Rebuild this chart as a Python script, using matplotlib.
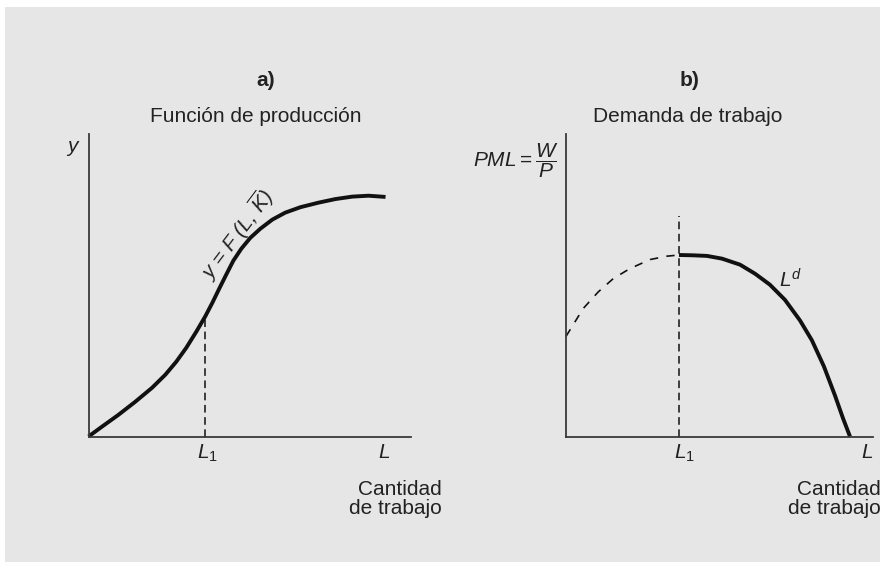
import matplotlib
matplotlib.use("Agg")
import matplotlib.pyplot as plt
from matplotlib.patches import Rectangle

plt.rcParams['font.family'] = ['Liberation Sans', 'DejaVu Sans']
plt.rcParams['mathtext.fontset'] = 'custom'
plt.rcParams['mathtext.rm'] = 'Liberation Sans'
plt.rcParams['mathtext.it'] = 'Liberation Sans:italic'
plt.rcParams['mathtext.bf'] = 'Liberation Sans:bold'

# Panel a: production function (units 0..10 on both axes)
prod_L = [0, 0.45, 0.92, 1.44, 1.97, 2.38, 2.72, 3.03, 3.34, 3.62, 3.84, 4.05, 4.27, 4.49,
          4.74, 5.02, 5.33, 5.70, 6.10, 6.57, 7.13, 7.66, 8.18, 8.68, 9.21]
prod_y = [0, 0.35, 0.71, 1.14, 1.61, 2.04, 2.47, 2.93, 3.46, 3.97, 4.42, 4.88, 5.35, 5.81,
          6.21, 6.57, 6.87, 7.17, 7.40, 7.58, 7.73, 7.85, 7.93, 7.96, 7.92]
L1_a = 3.62
y_at_L1 = 3.97

# Panel b: labour demand (marginal product of labour)
pml_dashed_L = [0, 0.56, 1.05, 1.54, 2.08, 2.74, 3.28, 3.68]
pml_dashed_y = [3.31, 4.23, 4.78, 5.22, 5.55, 5.85, 5.96, 6.0]
pml_solid_L = [3.68, 4.14, 4.59, 5.08, 5.67, 6.16, 6.64, 7.13, 7.62, 8.01, 8.40, 8.76, 9.02, 9.25]
pml_solid_y = [6.0, 5.99, 5.97, 5.88, 5.68, 5.38, 5.02, 4.52, 3.84, 3.18, 2.32, 1.36, 0.61, 0]
L1_b = 3.68
dash_top_b = 7.3

W, H = 880, 562
ink = '#222222'
axis_col = '#3a3a3a'
fs = 15


def px(x, y):
    return x / W, 1 - y / H


fig = plt.figure(figsize=(W / 100, H / 100), dpi=100)
fig.patch.set_facecolor('white')
fig.add_artist(Rectangle((5 / W, 0), 1 - 5 / W, 1 - 7 / H, transform=fig.transFigure,
                         facecolor='#e6e6e6', edgecolor='none', zorder=0))


def make_axes(left, right):
    ax = fig.add_axes([left / W, (H - 436.5) / H, (right - left) / W, (436.5 - 134) / H])
    ax.set_xlim(0, 10)
    ax.set_ylim(0, 10)
    ax.patch.set_alpha(0)
    for s in ['top', 'right']:
        ax.spines[s].set_visible(False)
    for s in ['left', 'bottom']:
        ax.spines[s].set_color(axis_col)
        ax.spines[s].set_linewidth(1.3)
    ax.set_xticks([])
    ax.set_yticks([])
    return ax


ax1 = make_axes(88.5, 411)
ax1.plot(prod_L, prod_y, color='#111111', lw=2.8, solid_capstyle='butt',
         solid_joinstyle='round', clip_on=False)
ax1.plot([L1_a, L1_a], [0, y_at_L1], color='#111111', lw=1.1, dashes=(5, 3))

ax2 = make_axes(566, 873)
ax2.plot(pml_dashed_L, pml_dashed_y, color='#111111', lw=1.2, dashes=(5, 5), clip_on=False)
ax2.plot(pml_solid_L, pml_solid_y, color='#111111', lw=2.8, solid_capstyle='butt',
         solid_joinstyle='round', clip_on=False)
ax2.plot([L1_b, L1_b], [0, dash_top_b], color='#111111', lw=1.1, dashes=(5, 3))

# Panel a texts
fig.text(*px(266, 80), 'a)', fontsize=fs, fontweight='bold', color=ink, ha='center', va='center')
fig.text(*px(256, 116), 'Función de producción', fontsize=fs, color=ink, ha='center', va='center')
fig.text(*px(73, 148), '$y$', fontsize=fs, color=ink, ha='center', va='center')
fig.text(*px(237, 235), r'y = F (L, $\overline{K}$)', fontsize=fs, fontstyle='italic', color=ink,
         ha='center', va='center', rotation=53, rotation_mode='anchor')
fig.text(*px(197, 453), '$L_1$', fontsize=fs, color=ink, ha='left', va='center')
fig.text(*px(384, 452), '$L$', fontsize=fs, color=ink, ha='center', va='center')
fig.text(*px(442, 499), 'Cantidad\nde trabajo', fontsize=fs, color=ink, ha='right', va='center',
         multialignment='right', linespacing=1.0)

# Panel b texts
fig.text(*px(690, 80), 'b)', fontsize=fs, fontweight='bold', color=ink, ha='center', va='center')
fig.text(*px(688, 116), 'Demanda de trabajo', fontsize=fs, color=ink, ha='center', va='center')
fig.text(*px(558, 161), r'$PML = \dfrac{W}{P}$', fontsize=fs, color=ink, ha='right', va='center')
fig.text(*px(674, 453), '$L_1$', fontsize=fs, color=ink, ha='left', va='center')
fig.text(*px(867, 452), '$L$', fontsize=fs, color=ink, ha='center', va='center')
fig.text(*px(881, 499), 'Cantidad\nde trabajo', fontsize=fs, color=ink, ha='right', va='center',
         multialignment='right', linespacing=1.0)
fig.text(*px(779, 280), '$L^d$', fontsize=fs, color=ink, ha='left', va='center')

fig.savefig('out.png', dpi=100, facecolor=fig.get_facecolor())
